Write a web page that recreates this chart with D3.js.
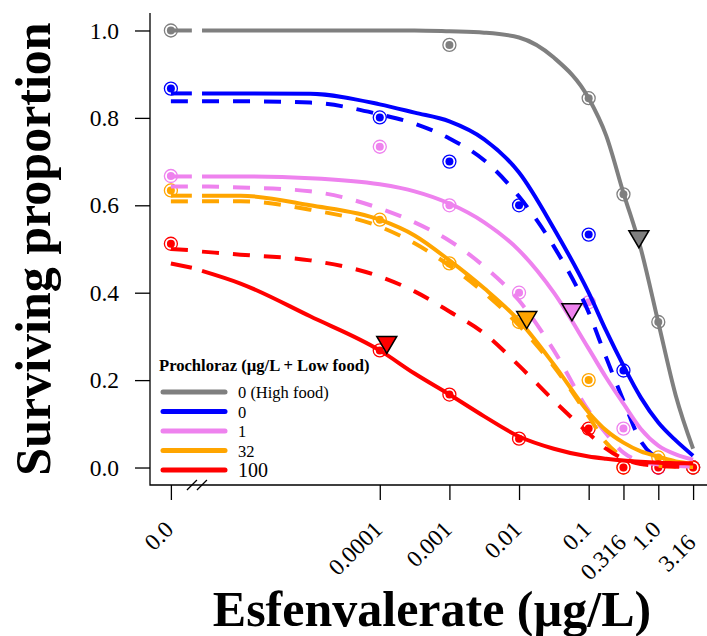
<!DOCTYPE html>
<html>
<head>
<meta charset="utf-8">
<script src="https://cdn.jsdelivr.net/npm/d3@7"></script>
<style>
body { margin: 0; background: #fff; }
svg { display: block; font-family: "Liberation Serif", "Times New Roman", serif; }
</style>
</head>
<body>
<div class="chart"></div>
<script>
// esfenvalerate doses (0 is drawn at 1e-7, left of the axis break)
const doses = [0, 0.0001, 0.001, 0.01, 0.1, 0.316, 1.0, 3.16]
const doseLabels = ["0.0", "0.0001", "0.001", "0.01", "0.1", "0.316", "1.0", "3.16"]
const yTicks = [0, 0.2, 0.4, 0.6, 0.8, 1.0]

const groups = ["0 (High food)", "0", "1", "32", "100"]
const colores = ["#7f7f7f", "#0000ff", "#ee82ee", "#ffa500", "#ff0000"]

// observed surviving proportion per dose
const obsHighFood = [1.0, null, 0.967, null, 0.845, 0.625, 0.333, 0]
const obsP0 = [0.867, 0.801, 0.700, 0.600, 0.533, 0.222, 0, 0]
const obsP1 = [0.667, 0.734, 0.600, 0.400, 0.378, 0.089, 0, 0]
const obsP32 = [0.634, 0.567, 0.467, 0.333, 0.200, 0, 0.023, 0]
const obsP100 = [0.512, 0.268, 0.167, 0.066, 0.089, 0, 0, 0]

// fitted curves (first two doses are left of the break)
const fitDoses = [0, 2e-7, 2.8e-7, 1e-6, 1e-5, 1e-4, 3.16e-4, 1e-3, 3.16e-3, 0.01, 0.0316, 0.1, 0.178, 0.316, 0.562, 1, 1.78, 3.16]
const fitHighFood = [1.0, 1.0, 1.0, 1.0, 1.0, 1.0, 1.0, 0.998, 0.995, 0.984, 0.938, 0.845, 0.76, 0.628, 0.50, 0.332, 0.165, 0.043]
const fitP0 = [0.856, 0.856, 0.856, 0.856, 0.855, 0.831, 0.812, 0.792, 0.751, 0.675, 0.547, 0.40, 0.313, 0.233, 0.16, 0.103, 0.062, 0.027]
const fitP0Dash = [0.838, 0.838, 0.838, 0.838, 0.835, 0.808, 0.787, 0.753, 0.703, 0.62, 0.506, 0.355, 0.252, 0.153, 0.06, 0.02, 0.007, 0.002]
const fitP1 = [0.666, 0.666, 0.666, 0.666, 0.662, 0.648, 0.632, 0.604, 0.561, 0.497, 0.40, 0.272, 0.206, 0.146, 0.088, 0.05, 0.03, 0.018]
const fitP1Dash = [0.643, 0.643, 0.643, 0.641, 0.632, 0.593, 0.561, 0.519, 0.46, 0.382, 0.268, 0.13, 0.078, 0.034, 0.014, 0.007, 0.004, 0.002]
const fitP32 = [0.622, 0.622, 0.622, 0.622, 0.60, 0.567, 0.531, 0.474, 0.41, 0.336, 0.236, 0.126, 0.085, 0.057, 0.037, 0.025, 0.014, 0.009]
const fitP32Dash = [0.609, 0.609, 0.609, 0.609, 0.59, 0.551, 0.513, 0.462, 0.40, 0.325, 0.231, 0.117, 0.057, 0.023, 0.009, 0.004, 0.002, 0.001]
const fitP100 = [0.467, 0.457, 0.450, 0.421, 0.346, 0.268, 0.215, 0.167, 0.117, 0.071, 0.043, 0.025, 0.02, 0.016, 0.013, 0.011, 0.01, 0.009]
const fitP100Dash = [0.50, 0.497, 0.494, 0.487, 0.474, 0.437, 0.403, 0.357, 0.307, 0.233, 0.153, 0.078, 0.043, 0.02, 0.008, 0.004, 0.002, 0.001]

// LC50 markers (triangles), null = not shown
const lc50Dose = [0.526, null, 0.0575, 0.0129, 0.000126]
const lc50Surv = [0.503, null, 0.336, 0.318, 0.261]

const size = {WIDTH: 707, HEIGHT: 636}
const plot = {left: 150, right: 714, top: 13, bottom: 485}
const zeroAt = 1e-7

const x = d3.scaleLog()
            .domain([Math.pow(10, -7.3), Math.pow(10, 0.8)])
            .range([plot.left, plot.right])
const xPos = (d) => x(d === 0 ? zeroAt : d)
const y = d3.scaleLinear()
            .domain([-0.04, 1.04])
            .range([plot.bottom, plot.top])

const svg = d3.select(".chart")
              .append("svg")
              .attr("width", size.WIDTH)
              .attr("height", size.HEIGHT)

// y axis
svg.append("g")
   .attr("transform", `translate(${plot.left},0)`)
   .call(d3.axisLeft(y).tickValues(yTicks).tickFormat(d3.format(".1f")).tickSize(15).tickPadding(16))
   .call(g => g.select(".domain").remove())
   .call(g => g.selectAll("line").attr("stroke-width", 1.3))
   .selectAll("text")
   .attr("font-size", 23.5)
   .attr("font-family", "Liberation Serif, serif")

// x axis
svg.append("g")
   .attr("transform", `translate(0,${plot.bottom})`)
   .call(d3.axisBottom(x).tickValues(doses.map(d => d === 0 ? zeroAt : d))
                         .tickFormat((d, i) => doseLabels[i]).tickSize(15))
   .call(g => g.select(".domain").remove())
   .call(g => g.selectAll("line").attr("stroke-width", 1.3))
   .selectAll("text")
   .attr("font-size", 23.5)
   .attr("font-family", "Liberation Serif, serif")
   .attr("text-anchor", "end")
   .attr("y", 0)
   .attr("dy", 0)
   .attr("transform", (d, i) => `translate(3.5,${[5, 7].includes(i) ? 59 : 46}) rotate(-45)`)

// L shaped box
svg.append("path")
   .attr("d", `M${plot.left},${plot.top}V${plot.bottom}H${plot.right}`)
   .attr("fill", "none")
   .attr("stroke", "black")
   .attr("stroke-width", 1.3)

// axis break
const breakX = (xPos(fitDoses[1]) + xPos(fitDoses[2])) / 2
svg.selectAll(".brk")
   .data([-5, 5])
   .join("line")
   .attr("x1", d => breakX + d - 5)
   .attr("x2", d => breakX + d + 5)
   .attr("y1", plot.bottom + 5)
   .attr("y2", plot.bottom - 5)
   .attr("stroke", "black")
   .attr("stroke-width", 1.3)

// points
const observados = [obsHighFood, obsP0, obsP1, obsP32, obsP100]
observados.forEach((obs, k) => {
    const pts = doses.map((d, i) => ({d: d, v: obs[i]})).filter(p => p.v !== null)
    svg.append("g").selectAll("circle")
       .data(pts)
       .join("circle")
       .attr("cx", p => xPos(p.d))
       .attr("cy", p => y(p.v))
       .attr("r", 6.5)
       .attr("fill", "white")
       .attr("fill-opacity", 0.6)
       .attr("stroke", colores[k])
       .attr("stroke-width", 1.3)
    svg.append("g").selectAll("circle")
       .data(pts)
       .join("circle")
       .attr("cx", p => xPos(p.d))
       .attr("cy", p => y(p.v))
       .attr("r", 4)
       .attr("fill", colores[k])
})

// fitted curves
const ajustes = [
    {vals: fitHighFood, k: 0, dash: false},
    {vals: fitP0, k: 1, dash: false},
    {vals: fitP0Dash, k: 1, dash: true},
    {vals: fitP1, k: 2, dash: false},
    {vals: fitP1Dash, k: 2, dash: true},
    {vals: fitP32, k: 3, dash: false},
    {vals: fitP32Dash, k: 3, dash: true},
    {vals: fitP100, k: 4, dash: false},
    {vals: fitP100Dash, k: 4, dash: true}
]
const linea = d3.line()
                .x(d => xPos(d[0]))
                .y(d => y(d[1]))
                .curve(d3.curveMonotoneX)

ajustes.forEach(a => {
    const pares = fitDoses.map((d, i) => [d, a.vals[i]])
    const piezas = [pares.slice(0, 2), pares.slice(2)]
    piezas.forEach(p => {
        svg.append("path")
           .attr("d", linea(p))
           .attr("fill", "none")
           .attr("stroke", colores[a.k])
           .attr("stroke-width", 4)
           .attr("stroke-dasharray", a.dash ? "17,14" : null)
    })
})

// LC50 triangles
lc50Dose.forEach((d, k) => {
    if (d === null) return
    const tx = xPos(d)
    const ty = y(lc50Surv[k])
    svg.append("path")
       .attr("d", `M${tx - 10},${ty - 17}L${tx + 10},${ty - 17}L${tx},${ty}Z`)
       .attr("fill", colores[k])
       .attr("stroke", "black")
       .attr("stroke-width", 1.5)
       .attr("stroke-linejoin", "miter")
})

// legend
const leyenda = {x: 159, y: 371, first: 392, step: 19.5}
svg.append("text")
   .text("Prochloraz (µg/L + Low food)")
   .attr("x", leyenda.x)
   .attr("y", leyenda.y)
   .attr("font-size", 16.6)
   .attr("font-weight", "bold")

const items = svg.append("g").selectAll("g")
                 .data(groups)
                 .join("g")
                 .attr("transform", (_, i) => `translate(0,${leyenda.first + i * leyenda.step})`)
items.append("line")
     .attr("x1", 163)
     .attr("x2", 225)
     .attr("stroke", (_, i) => colores[i])
     .attr("stroke-width", 5)
     .attr("stroke-linecap", "round")
items.append("text")
     .text(d => d)
     .attr("x", 238)
     .attr("y", (_, i) => i === 4 ? 7 : 6)
     .attr("font-size", (_, i) => i === 4 ? 20 : 16.5)

// axis titles
svg.append("text")
   .text("Esfenvalerate (µg/L)")
   .attr("x", (plot.left + plot.right) / 2)
   .attr("y", 626)
   .attr("text-anchor", "middle")
   .attr("font-size", 50)
   .attr("font-weight", "bold")

svg.append("text")
   .text("Surviving proportion")
   .attr("transform", `translate(50,${(plot.top + plot.bottom) / 2}) rotate(-90)`)
   .attr("text-anchor", "middle")
   .attr("font-size", 50)
   .attr("font-weight", "bold")
</script>
</body>
</html>
